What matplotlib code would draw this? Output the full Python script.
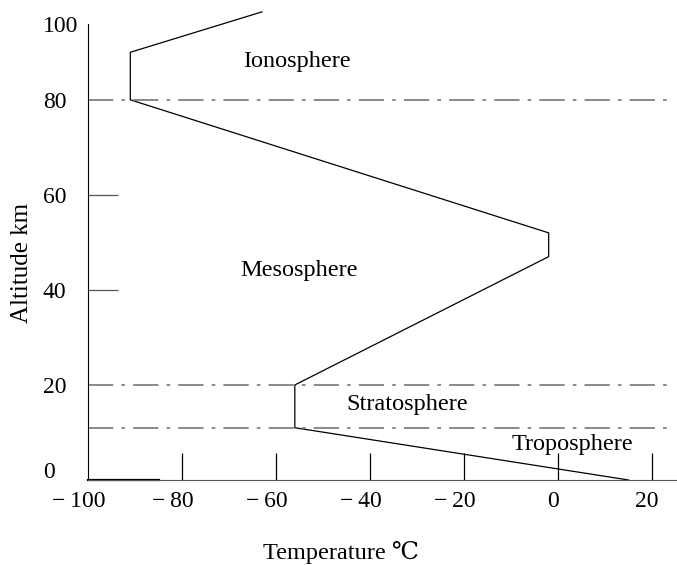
import numpy as np
import matplotlib.pyplot as plt
from matplotlib.transforms import ScaledTranslation

plt.rcParams['font.family'] = ['Liberation Serif', 'DejaVu Serif']

# temperature profile (deg C, km)
temp = [15, -56, -56, -2, -2, -91, -91, -63]
alt = [0, 11, 20, 47, 52, 80, 90, 98.5]

# layer boundaries (km)
bounds = [11, 20, 80]

layers = ['Ionosphere', 'Mesosphere', 'Stratosphere', 'Troposphere']
layer_x = [-67, -67.5, -45, -10]
layer_y = [88, 44, 15.8, 7.4]

xticks = [-100, -80, -60, -40, -20, 0, 20]
yticks = [0, 20, 40, 60, 80]

fig = plt.figure(figsize=(6.77, 5.65), dpi=100)
ax = fig.add_axes([88/677, 85/565, 589/677, 480/565])
ax.set_xlim(-100, 25.3)
ax.set_ylim(0, 101)

ax.plot(temp, alt, color='black', lw=0.9)
for b in bounds:
    ax.plot([-100, 24.5], [b, b], color='#808080', lw=1.3,
            dashes=(14, 4.5, 2, 4.5))

for name, tx, ty in zip(layers, layer_x, layer_y):
    ax.text(tx, ty, name, fontsize=17.5, va='center', ha='left')

for s in ['top', 'right']:
    ax.spines[s].set_visible(False)
ax.spines['left'].set_bounds(0, 96)
ax.spines['bottom'].set_color('#555555')
# darker stub of the base line near the origin
ax.plot([-100, -85], [0, 0], color='black', lw=1.6, clip_on=False)

# x ticks
ax.set_xticks(xticks)
ax.set_xticklabels([str(v).replace('-', '\u2212\u2009') for v in xticks])
ax.tick_params(axis='x', direction='in', length=19.5, width=0.9, pad=8,
               labelsize=17, color='black')
for v, lbl in zip(xticks, ax.get_xticklabels()):
    dx = -9 if v < 0 else -5
    lbl.set_transform(lbl.get_transform() + ScaledTranslation(dx/100, 0, fig.dpi_scale_trans))
ax.get_xaxis().get_major_ticks()[0].tick1line.set_visible(False)

# y ticks (top label sits at the spine end)
ax.set_yticks(yticks + [96])
ax.set_yticklabels([str(v) for v in yticks] + ['100'])
ax.tick_params(axis='y', direction='in', length=21.6, width=0.9, pad=32.4,
               labelsize=17, color='#555555')
ylbls = ax.get_yticklabels()
for lbl in ylbls:
    lbl.set_horizontalalignment('left')
ylbls[0].set_transform(ylbls[0].get_transform() + ScaledTranslation(0, 10/100, fig.dpi_scale_trans))
for i in [0, 1, 4, 5]:
    ax.get_yaxis().get_major_ticks()[i].tick1line.set_visible(False)

fig.text(22/677, 1 - 263/565, 'Altitude km', rotation=90, fontsize=18,
         ha='center', va='center')
fig.text(341/677, 1 - 552/565, 'Temperature \u2103', fontsize=17.5,
         ha='center', va='center')

fig.savefig('out.png', dpi=100)
